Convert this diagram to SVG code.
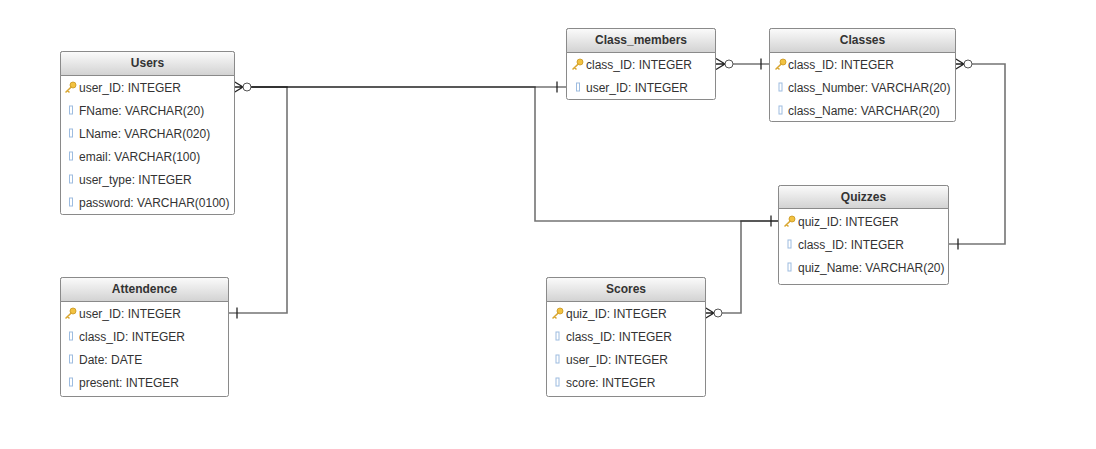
<svg xmlns="http://www.w3.org/2000/svg" width="1096" height="449" viewBox="0 0 1096 449">
<defs>
<linearGradient id="hdr" x1="0" y1="0" x2="0" y2="1">
<stop offset="0" stop-color="#fbfbfb"/>
<stop offset="1" stop-color="#d2d2d2"/>
</linearGradient>
<g id="key">
<circle cx="8" cy="-2" r="3" fill="#f2c241" stroke="#c8951e" stroke-width="0.8"/>
<path d="M6.2,0 L1,5 M2.5,3.5 L4,5" stroke="#d9a630" stroke-width="1.6" fill="none" stroke-linecap="round"/>
</g>
<rect id="fld" x="0" y="-4" width="3" height="8" fill="#fff" stroke="#9dbce0" stroke-width="1"/>
<style>
.box{fill:#fff;stroke:#8a8a8a;stroke-width:1}
.hd{fill:url(#hdr);stroke:#8a8a8a;stroke-width:1}
.sep{stroke:#9a9a9a;stroke-width:1}
.ht{font-family:"Liberation Sans",Arial,sans-serif;font-size:12px;font-weight:bold;fill:#333;text-anchor:middle}
.rt{font-family:"Liberation Sans",Arial,sans-serif;font-size:12px;fill:#333}
.ln{fill:none;stroke:#000;stroke-opacity:0.55;stroke-width:1.6}
.mk{fill:none;stroke:#222;stroke-width:1.3}
.ci{fill:#fff;stroke:#555;stroke-width:1}
</style>
</defs>
<rect width="1096" height="449" fill="#fff"/>

<g id="connectors">
<path class="ln" d="M251,87 H566"/>
<path class="ln" d="M251,87 H287 V313 H228"/>
<path class="ln" d="M251,87 H535 V221 H778"/>
<path class="ln" d="M722,313 H741 V221 H778"/>
<path class="ln" d="M733,64 H769"/>
<path class="ln" d="M972,64 H1005 V244 H948"/>
<!-- bars -->
<path class="mk" d="M557,81.5 V92.5"/>
<path class="mk" d="M237,307.5 V318.5"/>
<path class="mk" d="M771,215.5 V226.5"/>
<path class="mk" d="M761,58.5 V69.5"/>
<path class="mk" d="M958,238.5 V249.5"/>
<!-- crow's feet + circles -->
<path class="mk" d="M234,81.5 L243,87 L234,92.5 M234,87 H243"/>
<circle class="ci" cx="247" cy="87" r="4"/>
<path class="mk" d="M705,307.5 L714,313 L705,318.5 M705,313 H714"/>
<circle class="ci" cx="718" cy="313" r="4"/>
<path class="mk" d="M716,58.5 L725,64 L716,69.5 M716,64 H725"/>
<circle class="ci" cx="729" cy="64" r="4"/>
<path class="mk" d="M955,58.5 L964,64 L955,69.5 M955,64 H964"/>
<circle class="ci" cx="968" cy="64" r="4"/>
</g>

<g id="users">
<rect class="box" x="60.5" y="51.5" width="174" height="163" rx="2"/>
<path class="hd" d="M62.5,51.5 H232.5 A2,2 0 0 1 234.5,53.5 V75.5 H60.5 V53.5 A2,2 0 0 1 62.5,51.5 Z"/>
<text class="ht" x="147.5" y="67">Users</text>
<use href="#key" x="65" y="87"/>
<text class="rt" x="79" y="91.5">user_ID: INTEGER</text>
<use href="#fld" x="69.5" y="110"/>
<text class="rt" x="79" y="114.5">FName: VARCHAR(20)</text>
<use href="#fld" x="69.5" y="133"/>
<text class="rt" x="79" y="137.5">LName: VARCHAR(020)</text>
<use href="#fld" x="69.5" y="156"/>
<text class="rt" x="79" y="160.5">email: VARCHAR(100)</text>
<use href="#fld" x="69.5" y="179"/>
<text class="rt" x="79" y="183.5">user_type: INTEGER</text>
<use href="#fld" x="69.5" y="202"/>
<text class="rt" x="79" y="206.5">password: VARCHAR(0100)</text>
</g>

<g id="attendence">
<rect class="box" x="60.5" y="277.5" width="168" height="119" rx="2"/>
<path class="hd" d="M62.5,277.5 H226.5 A2,2 0 0 1 228.5,279.5 V301.5 H60.5 V279.5 A2,2 0 0 1 62.5,277.5 Z"/>
<text class="ht" x="144.5" y="293">Attendence</text>
<use href="#key" x="65" y="313"/>
<text class="rt" x="79" y="317.5">user_ID: INTEGER</text>
<use href="#fld" x="69.5" y="336"/>
<text class="rt" x="79" y="340.5">class_ID: INTEGER</text>
<use href="#fld" x="69.5" y="359"/>
<text class="rt" x="79" y="363.5">Date: DATE</text>
<use href="#fld" x="69.5" y="382"/>
<text class="rt" x="79" y="386.5">present: INTEGER</text>
</g>

<g id="class_members">
<rect class="box" x="566.5" y="28.5" width="149" height="71" rx="2"/>
<path class="hd" d="M568.5,28.5 H713.5 A2,2 0 0 1 715.5,30.5 V52.5 H566.5 V30.5 A2,2 0 0 1 568.5,28.5 Z"/>
<text class="ht" x="641" y="44">Class_members</text>
<use href="#key" x="572" y="64"/>
<text class="rt" x="586" y="68.5">class_ID: INTEGER</text>
<use href="#fld" x="576.5" y="87"/>
<text class="rt" x="586" y="91.5">user_ID: INTEGER</text>
</g>

<g id="classes">
<rect class="box" x="769.5" y="28.5" width="186" height="93" rx="2"/>
<path class="hd" d="M771.5,28.5 H953.5 A2,2 0 0 1 955.5,30.5 V52.5 H769.5 V30.5 A2,2 0 0 1 771.5,28.5 Z"/>
<text class="ht" x="862.5" y="44">Classes</text>
<use href="#key" x="775" y="64"/>
<text class="rt" x="788" y="68.5">class_ID: INTEGER</text>
<use href="#fld" x="779" y="87"/>
<text class="rt" x="788" y="91.5">class_Number: VARCHAR(20)</text>
<use href="#fld" x="779" y="110"/>
<text class="rt" x="788" y="114.5">class_Name: VARCHAR(20)</text>
</g>

<g id="quizzes">
<rect class="box" x="778.5" y="185.5" width="170" height="99" rx="2"/>
<path class="hd" d="M780.5,185.5 H946.5 A2,2 0 0 1 948.5,187.5 V208.5 H778.5 V187.5 A2,2 0 0 1 780.5,185.5 Z"/>
<text class="ht" x="863.5" y="201">Quizzes</text>
<use href="#key" x="784" y="221"/>
<text class="rt" x="798" y="225.5">quiz_ID: INTEGER</text>
<use href="#fld" x="788" y="244"/>
<text class="rt" x="798" y="248.5">class_ID: INTEGER</text>
<use href="#fld" x="788" y="267"/>
<text class="rt" x="798" y="271.5">quiz_Name: VARCHAR(20)</text>
</g>

<g id="scores">
<rect class="box" x="546.5" y="277.5" width="159" height="119" rx="2"/>
<path class="hd" d="M548.5,277.5 H703.5 A2,2 0 0 1 705.5,279.5 V301.5 H546.5 V279.5 A2,2 0 0 1 548.5,277.5 Z"/>
<text class="ht" x="626" y="293">Scores</text>
<use href="#key" x="552" y="313"/>
<text class="rt" x="566" y="317.5">quiz_ID: INTEGER</text>
<use href="#fld" x="556" y="336"/>
<text class="rt" x="566" y="340.5">class_ID: INTEGER</text>
<use href="#fld" x="556" y="359"/>
<text class="rt" x="566" y="363.5">user_ID: INTEGER</text>
<use href="#fld" x="556" y="382"/>
<text class="rt" x="566" y="386.5">score: INTEGER</text>
</g>
</svg>
